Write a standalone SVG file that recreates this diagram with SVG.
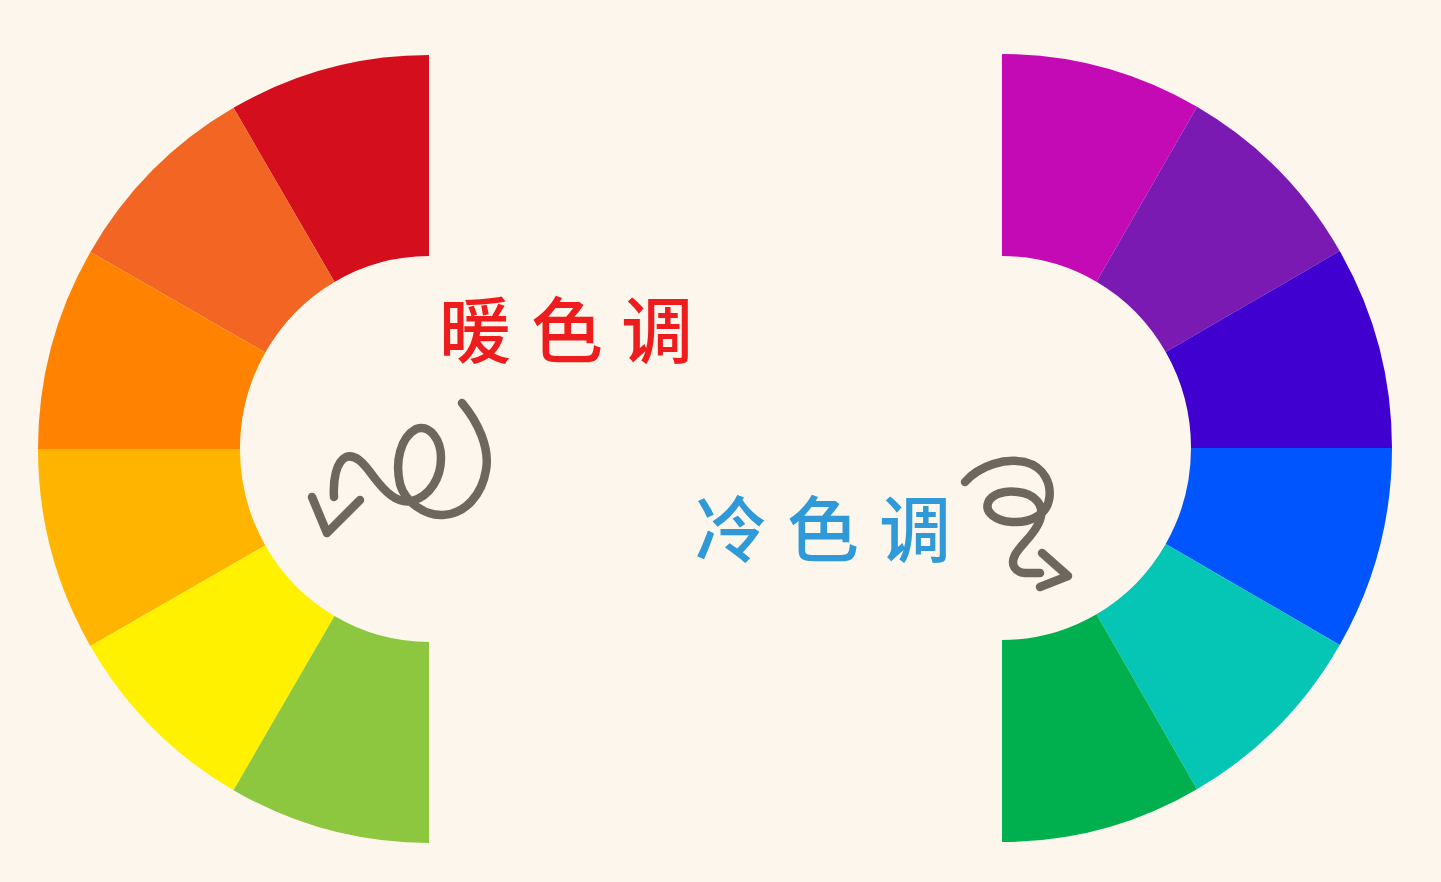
<svg xmlns="http://www.w3.org/2000/svg" width="1441" height="882" viewBox="0 0 1441 882">
<style>
.arrow{fill:none;stroke:#6E675E;stroke-width:8.5;stroke-linecap:round;stroke-linejoin:round}
.label{font-family:"Noto Sans CJK SC","Noto Sans CJK JP",sans-serif;font-size:72px;font-weight:500}
</style>
<rect width="1441" height="882" fill="#FDF6EC"/>
<g id="warm-wheel">
<path d="M429,55 A391,394 0 0 0 233.5,107.8 L334.5,281.9 A189,193 0 0 1 429,256 Z" fill="#D50E1E"/>
<path d="M233.5,107.8 A391,394 0 0 0 90.4,252 L265.3,352.5 A189,193 0 0 1 334.5,281.9 Z" fill="#F26522"/>
<path d="M90.4,252 A391,394 0 0 0 38,449 L240,449 A189,193 0 0 1 265.3,352.5 Z" fill="#FF8300"/>
<path d="M38,449 A391,394 0 0 0 90.4,646 L265.3,545.5 A189,193 0 0 1 240,449 Z" fill="#FFB500"/>
<path d="M90.4,646 A391,394 0 0 0 233.5,790.2 L334.5,616.1 A189,193 0 0 1 265.3,545.5 Z" fill="#FFF100"/>
<path d="M233.5,790.2 A391,394 0 0 0 429,843 L429,642 A189,193 0 0 1 334.5,616.1 Z" fill="#8DC63F"/>
</g>
<g id="cool-wheel">
<path d="M1002,54 A390,394 0 0 1 1197,106.8 L1096.5,281.7 A189,192 0 0 0 1002,256 Z" fill="#C30AB4"/>
<path d="M1197,106.8 A390,394 0 0 1 1339.7,251 L1165.7,352 A189,192 0 0 0 1096.5,281.7 Z" fill="#7A1AB3"/>
<path d="M1339.7,251 A390,394 0 0 1 1392,448 L1191,448 A189,192 0 0 0 1165.7,352 Z" fill="#4000D0"/>
<path d="M1392,448 A390,394 0 0 1 1339.7,645 L1165.7,544 A189,192 0 0 0 1191,448 Z" fill="#0055FF"/>
<path d="M1339.7,645 A390,394 0 0 1 1197,789.2 L1096.5,614.3 A189,192 0 0 0 1165.7,544 Z" fill="#05C5B5"/>
<path d="M1197,789.2 A390,394 0 0 1 1002,842 L1002,640 A189,192 0 0 0 1096.5,614.3 Z" fill="#00B04F"/>
</g>
<g id="warm-label">
<text class="label" fill="#EE1C1C" x="439 531 621" y="357">暖色调</text>
</g>
<g id="cool-label">
<text class="label" fill="#3099D8" x="695 787 879" y="556">冷色调</text>
</g>
<g id="connectors">
<path class="arrow" d="M462,403 C478,422 490,448 486,470 C482,495 465,514 443,515 C425,516 405,502 400,484 C395,462 400,438 416,429 C430,424 441,440 441,458 C441,478 430,496 412,501 C397,504 385,492 373,476 C363,462 355,454 346,457 C336,462 333,480 334,497"/>
<path class="arrow" d="M312,497 L327,533 L360,500"/>
<path class="arrow" d="M965,482 C980,465 1005,458 1025,462 C1045,467 1052,485 1049,500 C1046,515 1030,523 1012,522 C995,521 985,512 988,503 C991,494 1005,490 1018,492 C1035,494 1045,505 1040,520 C1035,535 1020,545 1015,555 C1010,565 1015,572 1025,573 L1040,573"/>
<path class="arrow" d="M1042,553 L1068,576 L1040,587"/>
</g>
</svg>
